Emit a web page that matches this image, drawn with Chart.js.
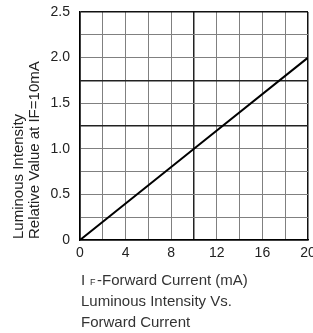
<!DOCTYPE html>
<html>
<head>
<meta charset="utf-8">
<script src="https://cdn.jsdelivr.net/npm/chart.js@4/dist/chart.umd.min.js"></script>
<style>
  html, body { margin: 0; padding: 0; background: #fff; }
  #wrap { width: 313px; height: 333px; }
</style>
</head>
<body>
<div id="wrap"><canvas id="ivChart" width="313" height="333"></canvas></div>
<script>
// forward current (mA) and relative luminous intensity
const currents = [0, 10, 20];
const intensity = [0, 1.0, 2.0];

const xTickLabels = [0, 4, 8, 12, 16, 20];
const yTickLabels = ['0', '0.5', '1.0', '1.5', '2.0', '2.5'];

const yTitle = ['Luminous Intensity', 'Relative Value at IF=10mA'];
const xTitle = ['I', 'F', '-Forward Current (mA)'];
const caption = ['Luminous Intensity Vs.', 'Forward Current'];

const FONT = '"Liberation Sans", Arial, sans-serif';

const textPlugin = {
    id: 'textPlugin',
    afterDraw(chart) {
        const ctx = chart.ctx;
        const area = chart.chartArea;
        ctx.save();
        ctx.fillStyle = '#222';
        ctx.textAlign = 'left';
        ctx.textBaseline = 'alphabetic';

        // rotated y title, two lines, bottom aligned
        ctx.font = '15px ' + FONT;
        [23, 39].forEach((x, i) => {
            ctx.save();
            ctx.translate(x, area.bottom - 1);
            ctx.rotate(-Math.PI / 2);
            ctx.fillText(yTitle[i], 0, 0);
            ctx.restore();
        });

        // x title with subscript F
        const base = 285;
        const left = area.left;
        ctx.fillStyle = '#333';
        ctx.font = '15px ' + FONT;
        ctx.fillText(xTitle[0], left + 1, base);
        ctx.font = '9px ' + FONT;
        ctx.fillText(xTitle[1], left + 10, base);
        ctx.font = '15px ' + FONT;
        ctx.fillText(xTitle[2], left + 17, base);

        caption.forEach((line, i) => {
            ctx.fillText(line, left + 1, base + 21 + i * 21);
        });
        ctx.restore();
    }
};

const gridColor = (ctx, darkValues, maxVal) => {
    const v = ctx.tick ? ctx.tick.value : null;
    if (v === maxVal) return '#111';
    if (darkValues.includes(v)) return '#222';
    return '#808080';
};

const gridWidth = (ctx, darkValues, maxVal) => {
    const v = ctx.tick ? ctx.tick.value : null;
    if (v === maxVal || darkValues.includes(v)) return 1.5;
    return 1;
};

const ctx = document.getElementById('ivChart').getContext('2d');
const chart = new Chart(ctx, {
    type: 'line',
    data: {
        datasets: [{
            data: currents.map((c, i) => ({ x: c, y: intensity[i] })),
            borderColor: '#000',
            borderWidth: 2,
            pointRadius: 0,
            tension: 0
        }]
    },
    options: {
        responsive: false,
        animation: false,
        layout: { padding: { top: 12, right: 5, left: 0, bottom: 0 } },
        plugins: {
            legend: { display: false },
            tooltip: { enabled: false }
        },
        scales: {
            x: {
                type: 'linear',
                min: 0,
                max: 20,
                afterFit: scale => {
                    scale.height = 93;
                    scale.paddingLeft = 0;
                    scale.paddingRight = 0;
                },
                border: { display: true, color: '#000', width: 1.5 },
                grid: {
                    drawTicks: false,
                    color: c => gridColor(c, [10], 20),
                    lineWidth: c => gridWidth(c, [10], 20)
                },
                ticks: {
                    stepSize: 2,
                    autoSkip: false,
                    maxRotation: 0,
                    padding: 5,
                    color: '#222',
                    font: { family: FONT, size: 14 },
                    callback: v => xTickLabels.includes(v) ? String(v) : ''
                }
            },
            y: {
                min: 0,
                max: 2.5,
                afterFit: scale => {
                    scale.width = 80;
                    scale.paddingTop = 0;
                    scale.paddingBottom = 0;
                },
                border: { display: true, color: '#000', width: 1.5 },
                grid: {
                    drawTicks: false,
                    color: c => gridColor(c, [1.25, 1.75], 2.5),
                    lineWidth: c => gridWidth(c, [1.25, 1.75], 2.5)
                },
                ticks: {
                    stepSize: 0.25,
                    autoSkip: false,
                    padding: 10,
                    color: '#222',
                    font: { family: FONT, size: 14 },
                    callback: v => {
                        const idx = Math.round(v / 0.5);
                        return Math.abs(v - idx * 0.5) < 1e-9 ? yTickLabels[idx] : '';
                    }
                }
            }
        }
    },
    plugins: [textPlugin]
});
</script>
</body>
</html>
